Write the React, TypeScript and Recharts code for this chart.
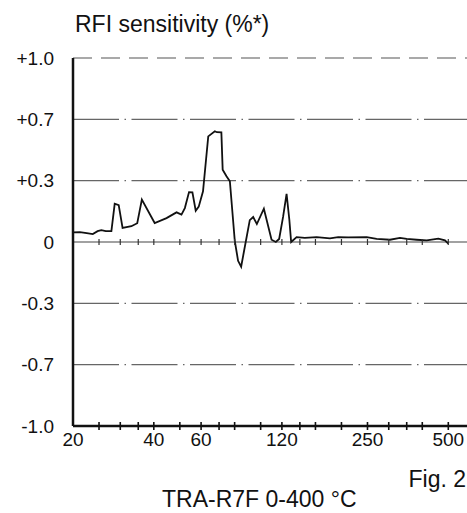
import React from 'react';
import { ComposedChart, Line, XAxis, YAxis, ReferenceLine } from 'recharts';

// Y tick labels (equally spaced on the chart, non-linear values)
const yTickValues = [-1, -0.7, -0.3, 0, 0.3, 0.7, 1];
const yTickLabels = ['-1.0', '-0.7', '-0.3', '0', '+0.3', '+0.7', '+1.0'];

// X axis (log scale)
const xLabelTicks = [20, 40, 60, 120, 250, 500];
const xMinorTicks = [25, 30, 35, 40, 50, 60, 70, 80, 100, 120, 140, 160, 200, 250, 300, 350, 400, 500];

// Series
const freq = [
  20, 21.2, 22.5, 23.7, 24.7, 25.5, 26.5, 27.8, 28.6, 29.6,
  30.6, 33.0, 34.7, 36.1, 40.3, 44.6, 48.6, 50.7, 52.2, 54.1,
  55.7, 57.3, 58.8, 61.0, 63.8, 67.5, 68.7, 71.4, 72.2, 74.6,
  76.8, 80.1, 82.4, 84.6, 86.9, 91.1, 93.8, 96.8, 102.8, 109.8,
  113.9, 117.2, 121.3, 124.9, 127.9, 129.9, 136.1, 146.1, 161.6, 181.2,
  194.5, 211.9, 248.2, 270.4, 303.2, 330.4, 350, 381.2, 415.5, 459,
  486, 500,
];
const rfi = [
  0.047, 0.048, 0.043, 0.039, 0.053, 0.058, 0.053, 0.053, 0.187, 0.180,
  0.069, 0.077, 0.092, 0.207, 0.093, 0.117, 0.145, 0.134, 0.166, 0.244,
  0.243, 0.153, 0.173, 0.248, 0.589, 0.622, 0.616, 0.615, 0.372, 0.329,
  0.297, 0.006, -0.092, -0.121, -0.038, 0.107, 0.122, 0.088, 0.163, 0.011,
  0.0, 0.015, 0.125, 0.235, 0.109, 0.0, 0.024, 0.020, 0.024, 0.018,
  0.024, 0.023, 0.024, 0.015, 0.011, 0.020, 0.015, 0.011, 0.008, 0.016,
  0.008, -0.008,
];

// map a value to its position on the equally spaced label grid
function toPos(v: number): number {
  for (let i = 0; i < yTickValues.length - 1; i++) {
    const a = yTickValues[i];
    const b = yTickValues[i + 1];
    if (v >= a && v <= b) return i - 3 + (v - a) / (b - a);
  }
  return v > 0 ? 3 : -3;
}

const lineData = freq.map((f, i) => ({ x: f, y: toPos(rfi[i]) }));
const zeroTicks = xMinorTicks.map((t) => ({ x: t, y: 0 }));
const axisTicks = xMinorTicks.map((t) => ({ x: t, y: -3 }));
const yPositions = yTickValues.map((_, i) => i - 3);

const FONT = '"Liberation Sans", Arial, Helvetica, sans-serif';

const zeroTickDot = (props: any) => (
  <line
    key={`zt-${props.index}`}
    x1={props.cx}
    x2={props.cx}
    y1={props.cy - 3}
    y2={props.cy + 3}
    stroke="#333"
    strokeWidth={1.2}
  />
);
const axisTickDot = (props: any) => (
  <line
    key={`at-${props.index}`}
    x1={props.cx}
    x2={props.cx}
    y1={props.cy - 4}
    y2={props.cy + 4}
    stroke="#111"
    strokeWidth={1.6}
  />
);

export default function App() {
  return (
    <div style={{ position: 'absolute', left: 0, top: 0, width: 467, height: 513, background: '#fff' }}>
      <ComposedChart
        width={467}
        height={513}
        margin={{ top: 58, right: 0, bottom: 57, left: 0 }}
      >
        <XAxis
          dataKey="x"
          type="number"
          scale="log"
          domain={[20, 587]}
          ticks={xLabelTicks}
          interval={0}
          allowDataOverflow
          height={30}
          tickSize={0}
          tickMargin={7}
          tickLine={false}
          axisLine={{ stroke: '#111', strokeWidth: 2.5 }}
          tick={{ fill: '#111', fontSize: 19, fontFamily: FONT }}
        />
        <YAxis
          dataKey="y"
          type="number"
          domain={[-3, 3]}
          ticks={yPositions}
          interval={0}
          width={73}
          tickSize={0}
          tickMargin={19}
          tickLine={false}
          axisLine={{ stroke: '#111', strokeWidth: 2.5 }}
          tickFormatter={(v: number) => yTickLabels[Math.round(v) + 3]}
          tick={{ fill: '#111', fontSize: 19, fontFamily: FONT }}
        />
        <ReferenceLine y={3} stroke="#555" strokeWidth={1.2} strokeDasharray="19 9" />
        <ReferenceLine y={2} stroke="#666" strokeWidth={1.2} strokeDasharray="46 5.5 1.5 5.5" />
        <ReferenceLine y={1} stroke="#666" strokeWidth={1.2} strokeDasharray="46 5.5 1.5 5.5" />
        <ReferenceLine y={-1} stroke="#666" strokeWidth={1.2} strokeDasharray="46 5.5 1.5 5.5" />
        <ReferenceLine y={-2} stroke="#666" strokeWidth={1.2} strokeDasharray="46 5.5 1.5 5.5" />
        <ReferenceLine y={0} stroke="#444" strokeWidth={1.1} />
        <Line
          data={zeroTicks}
          dataKey="y"
          stroke="none"
          dot={zeroTickDot}
          activeDot={false}
          isAnimationActive={false}
        />
        <Line
          data={axisTicks}
          dataKey="y"
          stroke="none"
          dot={axisTickDot}
          activeDot={false}
          isAnimationActive={false}
        />
        <Line
          data={lineData}
          dataKey="y"
          type="linear"
          stroke="#111"
          strokeWidth={1.8}
          dot={false}
          isAnimationActive={false}
        />
      </ComposedChart>
      <svg
        width={467}
        height={513}
        style={{ position: 'absolute', left: 0, top: 0, pointerEvents: 'none' }}
      >
        <text x={75} y={32} fontSize={23} fontFamily={FONT} fill="#111">RFI sensitivity (%*)</text>
        <text x={466} y={487} fontSize={23} fontFamily={FONT} fill="#111" textAnchor="end">Fig. 2</text>
        <text x={162} y={507} fontSize={23} fontFamily={FONT} fill="#111">TRA-R7F 0-400 °C</text>
      </svg>
    </div>
  );
}
